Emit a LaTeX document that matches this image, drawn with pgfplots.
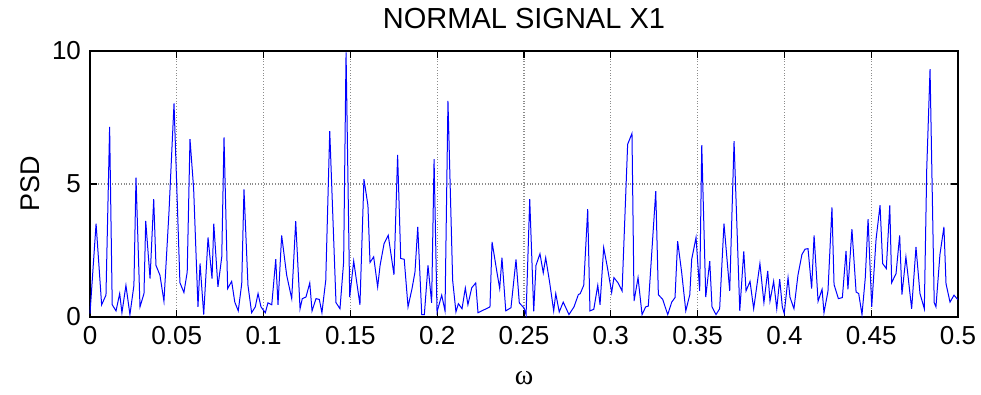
\documentclass[border=0pt]{standalone}
\usepackage{fontspec}
\setmainfont{Liberation Sans}
\newfontfamily\serifgreek{Liberation Serif}
\usepackage{pgfplots}
\pgfplotsset{compat=1.18}
\begin{document}
\begin{tikzpicture}
\path[use as bounding box] (-45pt,-39pt) rectangle (445.5pt,158.5pt);
\begin{axis}[
  scale only axis, width=434pt, height=133pt,
  at={(0,0)}, anchor=south west,
  xmin=0, xmax=0.5, ymin=0, ymax=10,
  xtick={0,0.05,0.1,0.15,0.2,0.25,0.3,0.35,0.4,0.45,0.5},
  xticklabels={0,0.05,0.1,0.15,0.2,0.25,0.3,0.35,0.4,0.45,0.5},
  ytick={0,5,10}, yticklabels={0,5,10},
  tick align=inside, xtick pos=both, ytick pos=both,
  major tick length=3.5pt,
  tick style={black, line width=0.6pt},
  axis line style={black, line width=0.8pt},
  grid=major,
  grid style={black!45, densely dotted, line width=0.6pt},
  ticklabel style={font=\fontsize{13}{15}\selectfont},
  xticklabel style={yshift=-1pt},
  yticklabel style={xshift=-1pt},
  title={NORMAL SIGNAL X1},
  title style={at={(axis description cs:0.5,1)}, anchor=center, yshift=10pt, font=\fontsize{14.5}{17}\selectfont},
  xlabel={{\serifgreek ω}},
  xlabel style={at={(axis description cs:0.5,0)}, anchor=center, yshift=-30.5pt, font=\fontsize{14}{17}\selectfont},
  ylabel={PSD},
  ylabel style={at={(axis description cs:0,0.5)}, anchor=center, yshift=30pt, font=\fontsize{13.5}{16}\selectfont},
  clip=false,
]
\addplot[color={rgb,255:red,0;green,0;blue,255}, line width=0.5pt] table[row sep=\\] {
x y\\
0.0000 0.13\\ 0.0035 3.51\\ 0.0067 0.46\\ 0.0092 0.82\\ 0.0113 7.15\\
0.0128 0.46\\ 0.0150 0.23\\ 0.0171 0.88\\ 0.0184 0.16\\ 0.0207 1.19\\
0.0230 0.09\\ 0.0253 1.19\\ 0.0265 5.24\\ 0.0288 0.38\\ 0.0311 0.88\\
0.0321 3.61\\ 0.0346 1.44\\ 0.0367 4.43\\ 0.0380 1.94\\ 0.0403 1.57\\
0.0426 0.59\\ 0.0455 3.95\\ 0.0484 8.03\\ 0.0518 1.29\\ 0.0541 0.92\\
0.0560 1.69\\ 0.0576 6.69\\ 0.0597 4.83\\ 0.0622 0.38\\ 0.0634 2.01\\
0.0655 0.09\\ 0.0680 2.99\\ 0.0703 1.44\\ 0.0713 3.51\\ 0.0737 1.13\\
0.0759 2.26\\ 0.0772 6.75\\ 0.0793 1.07\\ 0.0816 1.34\\ 0.0834 0.56\\
0.0854 0.23\\ 0.0874 1.25\\ 0.0887 4.80\\ 0.0910 1.19\\ 0.0931 0.16\\
0.0952 0.38\\ 0.0968 0.88\\ 0.0985 0.38\\ 0.1010 0.16\\ 0.1025 0.53\\
0.1047 0.46\\ 0.1070 2.17\\ 0.1083 0.46\\ 0.1104 3.07\\ 0.1133 1.57\\
0.1162 0.69\\ 0.1185 3.60\\ 0.1210 0.31\\ 0.1223 0.69\\ 0.1244 0.75\\
0.1266 1.28\\ 0.1279 0.23\\ 0.1302 0.69\\ 0.1321 0.66\\ 0.1336 0.16\\
0.1358 1.38\\ 0.1381 6.99\\ 0.1417 0.54\\ 0.1440 0.31\\ 0.1461 2.07\\
0.1475 9.95\\ 0.1496 0.75\\ 0.1519 2.10\\ 0.1555 0.46\\ 0.1578 5.18\\
0.1601 4.20\\ 0.1613 2.05\\ 0.1634 2.26\\ 0.1657 1.13\\ 0.1671 1.94\\
0.1694 2.76\\ 0.1718 3.07\\ 0.1751 1.59\\ 0.1772 6.09\\ 0.1790 2.20\\
0.1810 2.17\\ 0.1832 0.38\\ 0.1855 1.07\\ 0.1872 1.69\\ 0.1888 3.39\\
0.1911 0.09\\ 0.1926 0.09\\ 0.1947 1.94\\ 0.1968 0.53\\ 0.1982 5.93\\
0.1999 0.19\\ 0.2026 0.82\\ 0.2045 0.23\\ 0.2062 8.12\\ 0.2089 1.38\\
0.2108 0.19\\ 0.2122 0.50\\ 0.2143 0.31\\ 0.2162 1.09\\ 0.2177 0.46\\
0.2199 1.10\\ 0.2222 1.28\\ 0.2235 0.16\\ 0.2304 0.38\\ 0.2316 2.82\\
0.2344 1.69\\ 0.2360 1.07\\ 0.2373 2.23\\ 0.2395 0.23\\ 0.2425 0.35\\
0.2454 2.16\\ 0.2473 0.53\\ 0.2500 0.34\\ 0.2512 0.09\\ 0.2533 4.43\\
0.2556 0.21\\ 0.2569 1.94\\ 0.2592 2.38\\ 0.2611 1.66\\ 0.2625 2.23\\
0.2648 1.29\\ 0.2671 0.23\\ 0.2683 0.88\\ 0.2703 0.19\\ 0.2726 0.56\\
0.2759 0.09\\ 0.2788 0.38\\ 0.2813 0.84\\ 0.2824 0.88\\ 0.2844 1.19\\
0.2867 4.05\\ 0.2880 0.23\\ 0.2902 0.29\\ 0.2925 1.19\\ 0.2938 0.46\\
0.2959 2.61\\ 0.2980 1.88\\ 0.3005 0.92\\ 0.3018 1.48\\ 0.3041 1.29\\
0.3065 0.98\\ 0.3097 6.49\\ 0.3122 6.90\\ 0.3134 0.60\\ 0.3157 1.48\\
0.3180 0.09\\ 0.3201 0.38\\ 0.3216 0.41\\ 0.3259 4.73\\ 0.3274 0.84\\
0.3299 0.66\\ 0.3328 0.09\\ 0.3351 0.56\\ 0.3370 0.73\\ 0.3385 2.85\\
0.3408 1.69\\ 0.3432 0.23\\ 0.3455 0.84\\ 0.3466 2.17\\ 0.3491 2.99\\
0.3512 0.98\\ 0.3524 6.46\\ 0.3547 0.75\\ 0.3570 2.10\\ 0.3583 0.38\\
0.3606 0.09\\ 0.3627 0.31\\ 0.3652 3.51\\ 0.3685 0.98\\ 0.3710 6.61\\
0.3743 0.23\\ 0.3766 2.47\\ 0.3779 0.98\\ 0.3802 1.34\\ 0.3823 0.31\\
0.3859 2.01\\ 0.3882 0.54\\ 0.3904 1.73\\ 0.3917 0.60\\ 0.3938 1.34\\
0.3956 0.31\\ 0.3973 1.42\\ 0.3988 0.38\\ 0.3999 0.13\\ 0.4021 1.48\\
0.4032 0.75\\ 0.4055 0.31\\ 0.4078 1.57\\ 0.4101 2.35\\ 0.4119 2.55\\
0.4136 2.57\\ 0.4157 1.07\\ 0.4171 3.07\\ 0.4194 0.59\\ 0.4217 1.04\\
0.4228 0.16\\ 0.4251 0.97\\ 0.4274 4.12\\ 0.4286 1.22\\ 0.4311 0.69\\
0.4334 0.73\\ 0.4355 2.48\\ 0.4366 1.04\\ 0.4389 3.30\\ 0.4413 0.94\\
0.4428 0.88\\ 0.4447 0.09\\ 0.4466 1.48\\ 0.4482 3.68\\ 0.4503 0.38\\
0.4528 2.92\\ 0.4551 4.20\\ 0.4566 2.01\\ 0.4587 1.82\\ 0.4607 4.20\\
0.4618 1.29\\ 0.4643 1.63\\ 0.4664 3.07\\ 0.4677 0.84\\ 0.4700 2.26\\
0.4733 0.31\\ 0.4758 2.63\\ 0.4781 0.88\\ 0.4806 0.31\\ 0.4820 5.58\\
0.4839 9.32\\ 0.4863 0.54\\ 0.4873 0.38\\ 0.4896 2.35\\ 0.4919 3.39\\
0.4931 1.25\\ 0.4954 0.56\\ 0.4977 0.82\\ 0.4998 0.66\\
};
\end{axis}
\end{tikzpicture}
\end{document}
